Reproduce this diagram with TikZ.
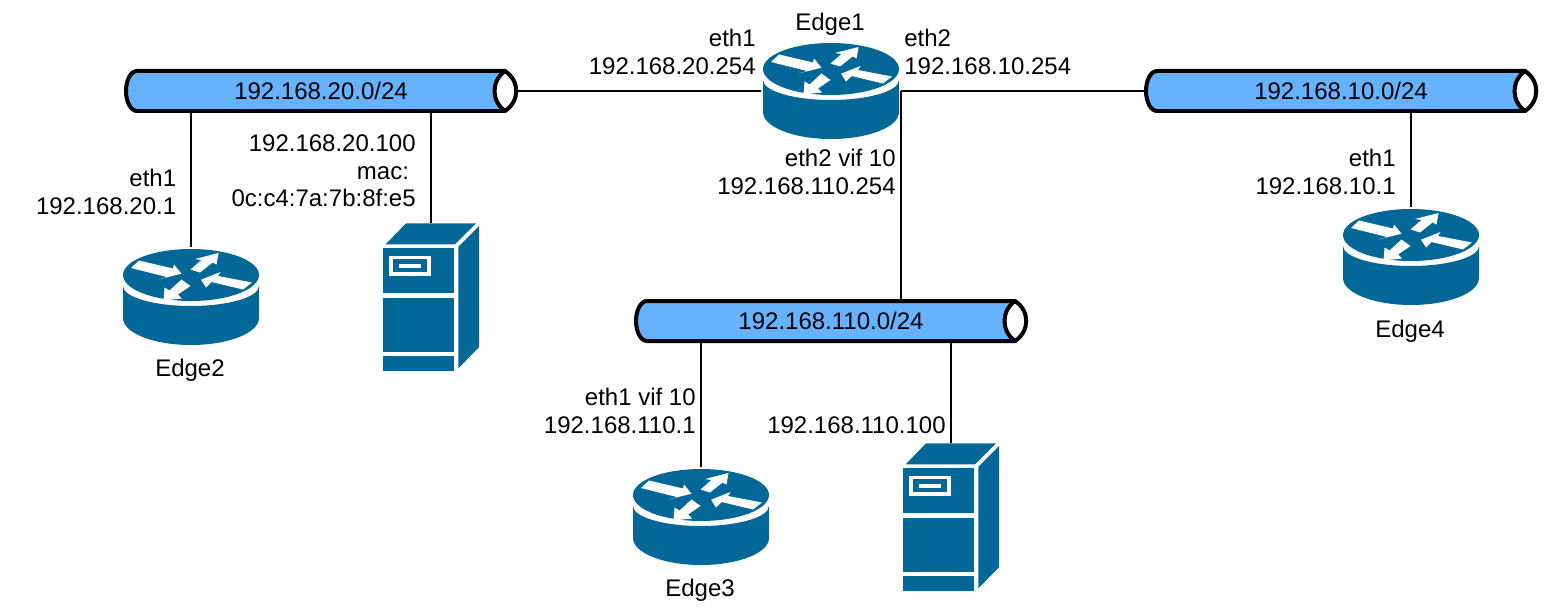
\documentclass[tikz,border=0pt]{standalone}
\usepackage{fontspec}
\setmainfont{Liberation Sans}
\definecolor{device}{HTML}{036897}
\definecolor{subnet}{HTML}{66B2FF}
\tikzset{
  link/.style={draw, line width=0.04cm},
  lbl/.style={inner sep=0pt, font=\fontsize{13.66}{15.65}\selectfont},
  pipenode/.style={lbl, minimum width=7.76cm, minimum height=0.8cm, outer sep=0pt},
  routernode/.style={minimum width=2.8cm, minimum height=2cm, inner sep=0pt, outer sep=0pt},
  servernode/.style={minimum width=1.94cm, minimum height=2.96cm, inner sep=0pt, outer sep=0pt},
  pipe/.pic={
    \draw[fill=subnet, line width=0.08cm, line join=round] (-183,-20) arc[start angle=270, end angle=90, x radius=11, y radius=20] -- (185,20) -- (185,-20) -- cycle;
    \draw[fill=white, line width=0.08cm, line join=round] (185,-20) .. controls (171,-10) and (171,10) .. (185,20) .. controls (200,10) and (200,-10) .. cycle;
  },
  router/.pic={
    \fill[device] (-68,-11) arc[start angle=180, end angle=0, x radius=68, y radius=20] -- (68,21) arc[start angle=0, end angle=180, x radius=68, y radius=27] -- cycle;
    \fill[device] (0,-22) ellipse[x radius=68, y radius=26];
    \fill[white] (-60,-29) -- (-52,-36.5) -- (-18,-28.5) -- (-17,-32.5) -- (-9.5,-23.3) -- (-32.5,-17.5) -- (-24,-20) -- cycle;
    \fill[white] (-.5,-27.5) -- (10.5,-37) -- (4,-38) -- (27.5,-44) -- (25.5,-32.5) -- (21.5,-34.5) -- (9,-24.5) -- cycle;
    \fill[white] (61,-14.5) -- (27,-21) -- (29.5,-25) -- (10,-17.3) -- (15,-9.5) -- (20.5,-15) -- (52,-7.5) -- cycle;
    \fill[white] (-27.5,3.5) -- (-26.5,-9.5) -- (-21.5,-6.5) -- (-9.5,-17.5) -- (-.5,-11) -- (-13,-2.5) -- (-9,1.5) -- cycle;
  },
  server/.pic={
    \fill[device] (-45.3,-52.7) -- (-25,-73.7) -- (45,-73.7) -- (24,-52.7) -- cycle;
    \fill[device] (27.3,-50.3) -- (48,-71) -- (48,50.3) -- (27.3,71.3) -- cycle;
    \fill[device] (-48,-48.7) rectangle (23.3,-3.7);
    \fill[device] (-48,.7) rectangle (23.3,54.7);
    \fill[device] (-48,58.7) rectangle (23.3,74);
    \fill[white] (-42,-41) rectangle (0,-21.3);
    \fill[device] (-38.3,-37.7) rectangle (-3.7,-24.7);
    \fill[white] (-31.7,-33) rectangle (-10.3,-28.7);
  }
}

\begin{document}
\begin{tikzpicture}[x=0.02cm, y=-0.02cm]
\useasboundingbox (0,0) rectangle (1544,608);

% links
\node[pipenode] (net20) at (321,91) {};
\node[pipenode] (net10) at (1341,91) {};
\node[pipenode] (net110) at (831,321) {};
\node[routernode] (edge1) at (831,91) {};
\node[routernode] (edge2) at (191,297) {};
\node[routernode] (edge3) at (701,517) {};
\node[routernode] (edge4) at (1411,257) {};
\node[servernode] (srv20) at (431,297) {};
\node[servernode] (srv110) at (951,517) {};
\draw[link] (net20.east) -- (edge1.west);
\draw[link] (edge1.east) -- (net10.west);
\draw[link] (edge1.east) -- (edge1.east |- net110.north);
\draw[link] (edge2.north |- net20.south) -- (edge2.north);
\draw[link] (srv20.north |- net20.south) -- (srv20.north);
\draw[link] (edge4.north |- net10.south) -- (edge4.north);
\draw[link] (edge3.north |- net110.south) -- (edge3.north);
\draw[link] (srv110.north |- net110.south) -- (srv110.north);

% subnets
\pic at (320,91) {pipe};
\pic at (1340,91) {pipe};
\pic at (830,321) {pipe};
\node[lbl] (text20) at (net20) {192.168.20.0/24};
\node[lbl] (text10) at (net10) {192.168.10.0/24};
\node[lbl] (text110) at (net110) {192.168.110.0/24};

% routers and servers
\pic at (edge1) {router};
\pic at (edge2) {router};
\pic at (edge3) {router};
\pic at (edge4) {router};
\pic at (srv20) {server};
\pic at (srv110) {server};

% labels
\node[lbl] (name1) at (830,24) {Edge1};
\node[lbl] (name2) at (190,370) {Edge2};
\node[lbl] (name3) at (700,590) {Edge3};
\node[lbl] (name4) at (1410,331) {Edge4};
\node[lbl, anchor=east, align=right] (if1a) at (756,52) {eth1\\192.168.20.254};
\node[lbl, anchor=west, align=left] (if1b) at (904,52) {eth2\\192.168.10.254};
\node[lbl, anchor=east, align=right] (if1c) at (896,172) {eth2 vif 10\\192.168.110.254};
\node[lbl, anchor=east, align=right] (if2) at (176.5,192) {eth1\\192.168.20.1};
\node[lbl, anchor=east, align=right] (ifsrv20) at (416,171) {192.168.20.100\\mac:\hbox to 0.133cm{}\\0c:c4:7a:7b:8f:e5};
\node[lbl, anchor=east, align=right] (if4) at (1396,172) {eth1\\192.168.10.1};
\node[lbl, anchor=east, align=right] (if3) at (696,411) {eth1 vif 10\\192.168.110.1};
\node[lbl, anchor=east] (ifsrv110) at (946,425) {192.168.110.100};
\end{tikzpicture}
\end{document}
